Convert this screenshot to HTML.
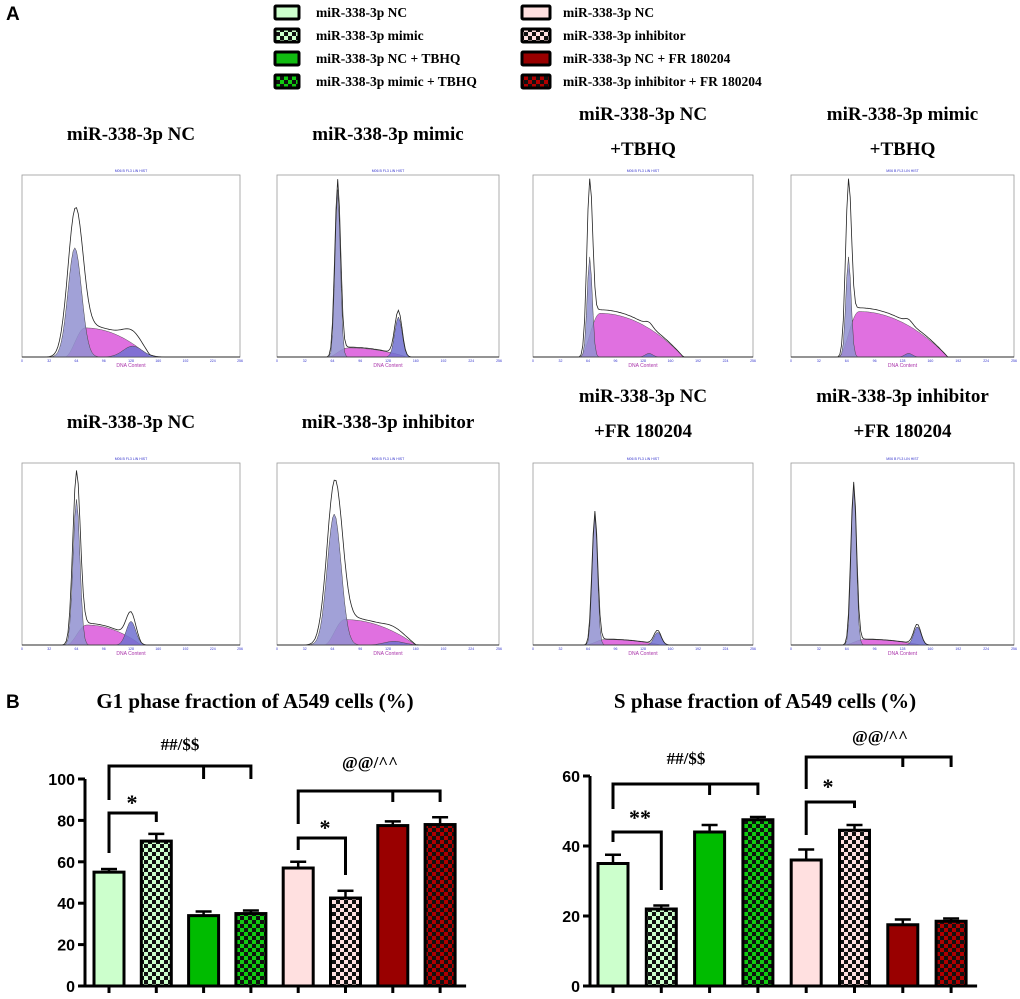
<!DOCTYPE html>
<html><head><meta charset="utf-8">
<style>
body{margin:0;background:#fff;}
svg{display:block;}
.t{font-family:"Liberation Serif",serif;font-weight:bold;}
.s{font-family:"Liberation Sans",sans-serif;}
</style></head>
<body>
<svg id="fig" width="1020" height="999" viewBox="0 0 1020 999" xmlns="http://www.w3.org/2000/svg">
<defs>
<pattern id="pLG" width="8" height="8" patternUnits="userSpaceOnUse"><rect width="8" height="8" fill="#111"/><rect width="4" height="4" fill="#ccffcc"/><rect x="4" y="4" width="4" height="4" fill="#ccffcc"/></pattern>
<pattern id="pG" width="8" height="8" patternUnits="userSpaceOnUse"><rect width="8" height="8" fill="#111"/><rect width="4" height="4" fill="#11cc11"/><rect x="4" y="4" width="4" height="4" fill="#11cc11"/></pattern>
<pattern id="pP" width="8" height="8" patternUnits="userSpaceOnUse"><rect width="8" height="8" fill="#111"/><rect width="4" height="4" fill="#ffe0e0"/><rect x="4" y="4" width="4" height="4" fill="#ffe0e0"/></pattern>
<pattern id="pR" width="8" height="8" patternUnits="userSpaceOnUse"><rect width="8" height="8" fill="#111"/><rect width="4" height="4" fill="#b00000"/><rect x="4" y="4" width="4" height="4" fill="#b00000"/></pattern>
</defs>
<text x="6" y="20" class="s" font-size="19" font-weight="bold">A</text>
<text x="6" y="708" class="s" font-size="19" font-weight="bold">B</text>
<g id="legend"></g>
<g id="hists"></g>
<g id="bars"></g>
</svg>
<script>
const NS="http://www.w3.org/2000/svg";
function mk(tag,attrs,parent,txt){const e=document.createElementNS(NS,tag);for(const k in attrs)e.setAttribute(k,attrs[k]);if(txt!==undefined)e.textContent=txt;parent.appendChild(e);return e;}

// legend
const legLabels=["miR-338-3p NC","miR-338-3p mimic","miR-338-3p NC + TBHQ","miR-338-3p mimic + TBHQ","miR-338-3p NC","miR-338-3p inhibitor","miR-338-3p NC + FR 180204","miR-338-3p inhibitor + FR 180204"];
const fills=["#ccffcc","url(#pLG)","#11bb11","url(#pG)","#ffe0e0","url(#pP)","#990000","url(#pR)"];
const leg=document.getElementById('legend');
legLabels.forEach((l,i)=>{
  const col=i<4?0:1, r=i%4;
  const x=col?522:275, y=6+r*23;
  const g=mk('g',{},leg);
  
  
  mk('rect',{x:x,y:y,width:col?28:24,height:13,fill:fills[i],stroke:'#000','stroke-width':3,rx:1},g);
  mk('text',{x:col?563:316,y:y+11,class:'t','font-size':13.5},g,l);
});

// histogram panels
const panelTitles=[["miR-338-3p NC"],["miR-338-3p mimic"],["miR-338-3p NC","+TBHQ"],["miR-338-3p mimic","+TBHQ"],["miR-338-3p NC"],["miR-338-3p inhibitor"],["miR-338-3p NC","+FR 180204"],["miR-338-3p inhibitor","+FR 180204"]];
const g1Mean=[62,70,66,66,64,66,72,72];
const g1Sd=[8,3,3,3,4,8,3,3];
const g1Peak=[0.6,0.92,0.55,0.55,0.8,0.72,0.72,0.88];
const rawPeak=[0.73,0.95,0.86,0.85,0.9,0.83,0.72,0.88];
const g2Mean=[130,140,135,135,128,135,145,145];
const g2Peak=[0.06,0.22,0.02,0.02,0.13,0.02,0.07,0.1];
const sLevel=[0.16,0.05,0.24,0.25,0.11,0.14,0.03,0.03];
const sEnd=[150,150,175,180,140,160,150,150];
const xTicks=[0,32,64,96,128,160,192,224,256];
const px=[[22,240],[277,499],[533,753],[791,1014]];
const hs=document.getElementById('hists');
for(let p=0;p<8;p++){
  const row=p<4?0:1, c=p%4;
  const x0=px[c][0],x1=px[c][1];
  const y0=row?463:175, y1=row?645:357;
  const g=mk('g',{},hs);
  
  
  const tl=panelTitles[p];
  const cx=(x0+x1)/2;
  const ty=tl.length===1?(row?428:140):(row?402:120);
  tl.forEach((t,k)=>mk('text',{x:cx,y:ty+k*35,class:'t','font-size':19,'text-anchor':'middle'},g,t));
  const X=v=>x0+(x1-x0)*v/256, Y=f=>y1-(y1-y0)*f;
  mk('rect',{x:x0,y:y0,width:x1-x0,height:y1-y0,fill:'none',stroke:'#999','stroke-width':0.8},g);
  mk('text',{x:cx,y:y0-3,class:'s','font-size':3.5,fill:'#33c','text-anchor':'middle'},g,'M06 B FL3 LIN HIST');
  mk('text',{x:cx,y:y1+10,class:'s','font-size':5,fill:'#a3a','text-anchor':'middle'},g,'DNA Content');
  xTicks.forEach(t=>mk('text',{x:X(t),y:y1+5,class:'s','font-size':3.5,fill:'#33c','text-anchor':'middle'},g,t));
  const N=128;let g1='',s='',g2='',tot='';
  const pk=g1Mean[p]+12;
  for(let i=0;i<=N;i++){
    const v=i*2;
    const a=g1Peak[p]*Math.exp(-Math.pow((v-g1Mean[p])/g1Sd[p],2)/2);
    const b=g2Peak[p]*Math.exp(-Math.pow((v-g2Mean[p])/(g1Sd[p]*1.4),2)/2);
    let ss=0;
    if(v>g1Mean[p]-12&&v<sEnd[p]){
      const rise=v<pk?Math.pow(Math.sin(Math.PI/2*(v-(g1Mean[p]-12))/24),2):1;
      const q=v>pk?(v-pk)/(sEnd[p]-pk):0;
      ss=sLevel[p]*rise*(1-q*q);
    }
    const raw=rawPeak[p]*Math.exp(-Math.pow((v-g1Mean[p])/(g1Sd[p]*1.1),2)/2);
    g1+=(i?'L':'M')+X(v).toFixed(1)+','+Y(a).toFixed(1);
    s+=(i?'L':'M')+X(v).toFixed(1)+','+Y(ss).toFixed(1);
    g2+=(i?'L':'M')+X(v).toFixed(1)+','+Y(b).toFixed(1);
    tot+=(i?'L':'M')+X(v).toFixed(1)+','+Y(Math.min(0.98,Math.max(raw,a)+b*1.1+ss*1.08)).toFixed(1);
  }
  const close='L'+X(256)+','+y1+'L'+X(0)+','+y1+'Z';
  mk('path',{d:s+close,fill:'#e070e0',stroke:'#555','stroke-width':0.5},g);
  mk('path',{d:g1+close,fill:'#9090d0','fill-opacity':0.85,stroke:'#444','stroke-width':0.5},g);
  mk('path',{d:g2+close,fill:'#7070d0','fill-opacity':0.85,stroke:'#444','stroke-width':0.5},g);
  mk('path',{d:tot,fill:'none',stroke:'#222','stroke-width':0.8},g);
}

// bar charts
const groups=["NC","mimic","NC+TBHQ","mimic+TBHQ","NC","inhibitor","NC+FR","inhibitor+FR"];
const g1Vals=[55,70,34,35,57,42.5,77.5,78];
const g1Err=[1.5,3.5,2,1.5,3,3.5,2,3.5];
const sVals=[35,22,44,47.5,36,44.5,17.5,18.5];
const sErr=[2.5,1,2,0.8,3,1.5,1.5,0.8];
const g1Ticks=[0,20,40,60,80,100];
const sTicks=[0,20,40,60];
const barFills=["#ccffcc","url(#pLG)","#00bb00","url(#pG)","#ffe0e0","url(#pP)","#990000","url(#pR)"];
const bars=document.getElementById('bars');
function chart(opt){
  const g=mk('g',{},bars);
  
  
  const Y=v=>opt.y0-(opt.y0-opt.yTop)*v/opt.max;
  const X=i=>opt.bx0+i*opt.step;
  mk('text',{x:opt.tx,y:708,class:'t','font-size':21,'text-anchor':'middle'},g,opt.title);
  mk('line',{x1:opt.ax,y1:Y(opt.max),x2:opt.ax,y2:opt.y0,stroke:'#000','stroke-width':3},g);
  mk('line',{x1:opt.ax-7,y1:opt.y0,x2:X(7)+26,y2:opt.y0,stroke:'#000','stroke-width':3},g);
  opt.ticks.forEach(t=>{
    mk('line',{x1:opt.ax-7,y1:Y(t),x2:opt.ax,y2:Y(t),stroke:'#000','stroke-width':3},g);
    mk('text',{x:opt.ax-10,y:Y(t)+6,class:'s','font-size':16,'font-weight':'bold','text-anchor':'end'},g,t);
  });
  opt.vals.forEach((v,i)=>{
    const cx=X(i);
    const e=Y(v+opt.err[i]);
    mk('line',{x1:cx,y1:Y(v),x2:cx,y2:e,stroke:'#000','stroke-width':2.5},g);
    mk('line',{x1:cx-8,y1:e,x2:cx+8,y2:e,stroke:'#000','stroke-width':2.5},g);
    const r=mk('rect',{x:cx-15,y:Y(v),width:30,height:opt.y0-Y(v),fill:barFills[i],stroke:'#000','stroke-width':3},g);
    
    
    mk('line',{x1:cx,y1:opt.y0,x2:cx,y2:opt.y0+7,stroke:'#000','stroke-width':3},g);
  });
  opt.br.forEach(b=>{
    const [a,c,m,y,ya,yc,lab,lx,ly]=b;
    let d=`M${X(a)},${ya}L${X(a)},${y}L${X(c)},${y}L${X(c)},${yc}`;
    if(m!==null)d+=`M${X(m)},${y}L${X(m)},${yc}`;
    mk('path',{d:d,fill:'none',stroke:'#000','stroke-width':3},g);
    mk('text',{x:lx,y:ly,class:'t','font-size':lab.length<3?22:17,'text-anchor':'middle'},g,lab);
  });
}
chart({name:'g1-phase-chart',title:'G1 phase fraction of A549 cells (%)',tx:255,ax:85,y0:986,yTop:779,max:100,ticks:g1Ticks,bx0:109,step:47.3,vals:g1Vals,err:g1Err,
  br:[[0,3,2,766,800,779,'##/$$',180,750],[0,1,null,813,853,822,'*',132,810],[4,7,6,791,824,802,'@@/^^',370,768],[4,5,null,838,850,875,'*',325,835]]});
chart({name:'s-phase-chart',title:'S phase fraction of A549 cells (%)',tx:765,ax:590,y0:986,yTop:776,max:60,ticks:sTicks,bx0:613,step:48.3,vals:sVals,err:sErr,
  br:[[0,3,2,784,809,795,'##/$$',686,764],[0,1,null,832,842,890,'**',640,825],[4,7,6,757,789,767,'@@/^^',880,742],[4,5,null,802,835,808,'*',828,794]]});
</script>
</body></html>
